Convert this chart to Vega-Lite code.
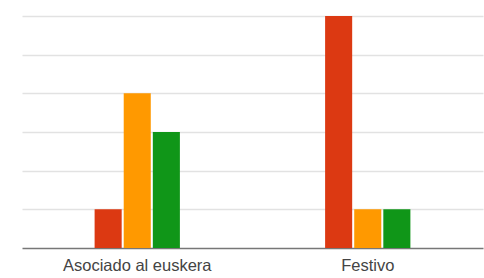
{
  "$schema": "https://vega.github.io/schema/vega-lite/v6.json",
  "width": 477,
  "height": 232,
  "autosize": {"type": "none"},
  "padding": {"left": 7, "top": 16, "right": 0, "bottom": 30},
  "background": "white",
  "config": {"view": {"stroke": null}},
  "data": {
    "values": [
      {"categoria": "Asociado al euskera", "serie": "Serie 1", "valor": 1},
      {"categoria": "Asociado al euskera", "serie": "Serie 2", "valor": 4},
      {"categoria": "Asociado al euskera", "serie": "Serie 3", "valor": 3},
      {"categoria": "Festivo", "serie": "Serie 1", "valor": 6},
      {"categoria": "Festivo", "serie": "Serie 2", "valor": 1},
      {"categoria": "Festivo", "serie": "Serie 3", "valor": 1}
    ]
  },
  "mark": {"type": "bar"},
  "encoding": {
    "x": {
      "field": "categoria",
      "type": "nominal",
      "sort": null,
      "scale": {"range": [15, 476], "paddingInner": 0.63, "paddingOuter": 0.315},
      "axis": {
        "title": null,
        "labelAngle": 0,
        "ticks": false,
        "domainColor": "#777777",
        "domainWidth": 1.5,
        "labelFont": "Liberation Sans",
        "labelFontSize": 16.5,
        "labelColor": "#444444",
        "labelPadding": 9,
        "grid": false
      }
    },
    "xOffset": {
      "field": "serie",
      "type": "nominal",
      "sort": null,
      "scale": {"paddingInner": 0.07, "paddingOuter": 0}
    },
    "y": {
      "field": "valor",
      "type": "quantitative",
      "scale": {"domain": [0, 6], "nice": false},
      "axis": {
        "title": null,
        "labels": false,
        "ticks": false,
        "domain": false,
        "grid": true,
        "gridColor": "#e2e2e2",
        "gridWidth": 1.5,
        "values": [1, 2, 3, 4, 5, 6]
      }
    },
    "color": {
      "field": "serie",
      "type": "nominal",
      "scale": {"domain": ["Serie 1", "Serie 2", "Serie 3"], "range": ["#dc3912", "#ff9900", "#109618"]},
      "legend": null
    }
  }
}
